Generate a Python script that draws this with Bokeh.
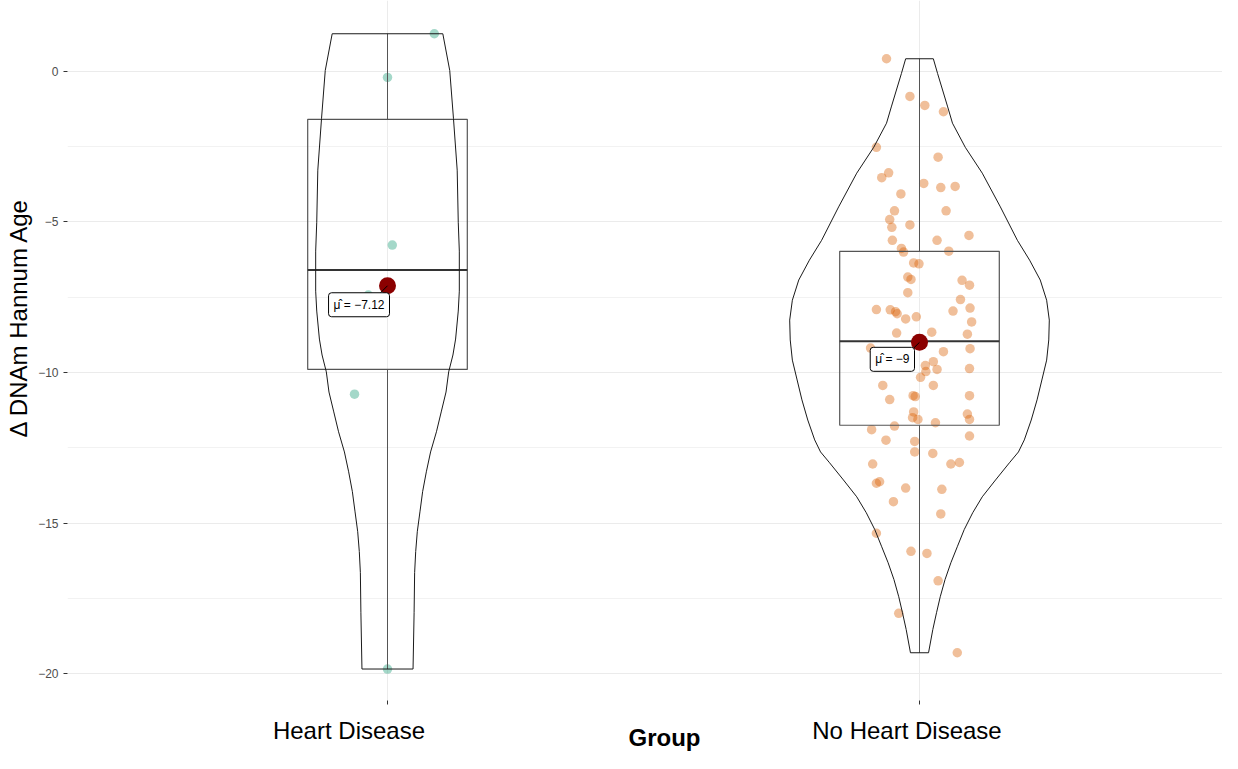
import numpy as np
from bokeh.plotting import figure
from bokeh.models import FixedTicker, Label, Range1d, LinearAxis, Title
from bokeh.embed import file_html
from bokeh.resources import INLINE

# ---------------- data ----------------
categories = ["Heart Disease", "No Heart Disease"]
group_colors = ["#1B9E77", "#D95F02"]

hd_values = [1.25, -0.20, -5.77, -7.43, -10.72, -19.85]
hd_jitter = [0.088, 0.000, 0.009, -0.036, -0.062, 0.000]

nhd_values = [
    0.42, -0.83, -1.13, -1.34, -2.52, -2.85, -3.37, -3.53, -3.72, -3.86,
    -3.82, -4.07, -4.63, -4.63, -4.92, -5.10, -5.18, -5.45, -5.61, -5.61,
    -5.88, -6.00, -5.97, -6.36, -6.39, -6.83, -6.91, -6.94, -7.10, -7.35,
    -7.58, -7.86, -7.91, -7.92, -7.98, -8.05, -7.96, -8.22, -8.15, -8.32,
    -8.69, -8.66, -8.73, -9.31, -9.21, -9.64, -9.77, -9.97, -9.90, -10.16,
    -9.87, -10.43, -10.43, -10.90, -10.77, -10.80, -10.77, -11.31, -11.50, -11.56,
    -11.38, -11.56, -11.67, -11.78, -11.90, -12.11, -12.25, -9.19,
    -12.29, -12.64, -12.69, -13.04, -13.04, -12.99, -13.68, -13.63, -13.84, -13.88,
    -14.29, -14.70, -15.34, -15.94, -16.01, -16.92, -18.00, -19.31,
]
nhd_jitter = [
    -0.062, -0.018, 0.010, 0.045, -0.081, 0.035, -0.058, -0.071, 0.008, 0.040,
    0.067, -0.035, -0.047, 0.050, -0.056, -0.018, -0.052, 0.093, -0.051, 0.033,
    -0.034, -0.030, 0.055, -0.011, -0.001, -0.022, -0.016, 0.080, 0.094, -0.022,
    0.077, 0.095, -0.081, -0.055, -0.045, -0.042, 0.063, -0.026, -0.006, 0.098,
    -0.043, 0.023, 0.090, 0.045, 0.095, 0.026, 0.011, 0.012, 0.033, 0.002,
    0.094, -0.069, 0.026, -0.056, -0.012, -0.008, 0.094, -0.011, -0.013, -0.003,
    0.090, 0.094, 0.030, -0.047, -0.090, 0.094, -0.063, -0.092,
    -0.009, -0.009, 0.025, -0.088, 0.059, 0.075, -0.081, -0.075, -0.026, 0.042,
    -0.049, 0.040, -0.081, -0.016, 0.014, 0.035, -0.039, 0.071,
]

# violin outlines: value -> half width (x units)
hd_violin_y = [1.25, 0.03, -1.56, -3.28, -5.01, -5.97, -7.30, -7.96, -8.89, -9.42,
               -9.98, -10.65, -11.31, -11.97, -12.64, -13.30, -13.96, -14.63,
               -15.29, -15.95, -16.65, -17.98, -19.85]
hd_violin_hw = [0.104, 0.117, 0.124, 0.131, 0.133, 0.135, 0.135, 0.133, 0.128, 0.123,
                0.115, 0.110, 0.101, 0.092, 0.081, 0.073, 0.066, 0.061,
                0.056, 0.053, 0.051, 0.050, 0.048]
nhd_violin_y = [0.42, -0.07, -1.18, -1.72, -2.52, -3.38, -4.50, -5.61, -6.27, -6.93,
                -7.60, -8.26, -8.92, -9.59, -10.25, -10.91, -11.58, -12.24, -12.64,
                -13.00, -13.57, -14.13, -14.66, -15.22, -15.79, -16.32, -16.88,
                -17.45, -17.98, -18.54, -19.31]
nhd_violin_hw = [0.026, 0.034, 0.053, 0.062, 0.086, 0.118, 0.152, 0.184, 0.207, 0.227,
                 0.239, 0.244, 0.243, 0.239, 0.230, 0.221, 0.210, 0.197, 0.186,
                 0.169, 0.143, 0.118, 0.100, 0.084, 0.071, 0.059, 0.048,
                 0.039, 0.032, 0.025, 0.017]

y_ticks = [0, -5, -10, -15, -20]
y_minor_ticks = [-2.5, -7.5, -12.5, -17.5]
x_title = "Group"
y_title = "\u0394 DNAm Hannum Age"

groups_values = [hd_values, nhd_values]
groups_jitter = [hd_jitter, nhd_jitter]
violins = [(hd_violin_y, hd_violin_hw), (nhd_violin_y, nhd_violin_hw)]

# ---------------- layout ----------------
W, H = 1222, 753
BL, BB = 67, 52
frame_w, frame_h = W - BL, H - BB
PX_X, PX_Y = 532.0, 30.15
x0 = 1 - 320 / PX_X
y1 = 71 / PX_Y

p = figure(width=W, height=H,
           x_range=Range1d(x0, x0 + frame_w / PX_X),
           y_range=Range1d(y1 - frame_h / PX_Y, y1),
           output_backend="svg", toolbar_location=None,
           min_border_left=BL, min_border_right=0, min_border_top=0,
           min_border_bottom=BB)
p.outline_line_color = None
p.background_fill_color = "white"
p.border_fill_color = "white"

# grids / axes
p.xaxis.ticker = FixedTicker(ticks=[1, 2])
p.xaxis.major_label_overrides = {1: "", 2: ""}
p.xaxis.major_label_text_font_size = "0px"
p.xaxis.major_label_standoff = 0
p.yaxis.ticker = FixedTicker(ticks=y_ticks, minor_ticks=y_minor_ticks)
p.xgrid.grid_line_color = "#EBEBEB"
p.ygrid.grid_line_color = "#EBEBEB"
p.ygrid.minor_grid_line_color = "#F2F2F2"
for ax in (p.xaxis[0], p.yaxis[0]):
    ax.axis_line_color = None
    ax.major_tick_line_color = "#333333"
    ax.major_tick_out = 4
    ax.major_tick_in = 0
    ax.minor_tick_line_color = None
p.yaxis.major_label_text_font = "Liberation Sans"
p.yaxis.major_label_text_font_size = "12px"
p.yaxis.major_label_text_color = "#4D4D4D"
p.yaxis.major_label_standoff = 5


def text_axis(positions, texts, standoff, style):
    return LinearAxis(ticker=FixedTicker(ticks=positions),
                      major_label_overrides=dict(zip(positions, texts)),
                      axis_line_color=None, major_tick_line_color=None,
                      major_tick_out=0, major_tick_in=0, minor_tick_line_color=None,
                      major_label_standoff=standoff,
                      major_label_text_font="Liberation Sans",
                      major_label_text_font_style=style,
                      major_label_text_font_size="24px",
                      major_label_text_color="black")


# category names (placed as in the picture, slightly left of each tick)
tick_label_dx = [-38.5, -12.5]
label_pos = [round(i + 1 + dx / PX_X, 4) for i, dx in enumerate(tick_label_dx)]
p.add_layout(text_axis(label_pos, categories, 12, "normal"), "below")
# x-axis title, centred a little right of the panel centre as in the picture
title_pos = [round(1.5 + 11 / PX_X, 4)]
p.add_layout(text_axis(title_pos, [x_title], -23, "bold"), "below")
p.add_layout(Title(text=y_title, align="left", offset=263, standoff=3,
                   vertical_align="top",
                   text_font="Liberation Sans", text_font_style="normal",
                   text_font_size="24px", text_color="black"), "left")

BOX_W = 0.3
label_dx = [2, -5]       # px, right edge of mean label vs. group centre
label_dy = [7, 5]        # px, top edge of mean label below the mean

for i, (vals, jit) in enumerate(zip(groups_values, groups_jitter)):
    cx = i + 1
    v = np.asarray(vals, dtype=float)
    # jittered points
    p.scatter(x=cx + np.asarray(jit), y=v, size=9.5, fill_color=group_colors[i],
              fill_alpha=0.4, line_color=None)
    # box + whiskers
    q1, med, q3 = np.percentile(v, [25, 50, 75])
    iqr = q3 - q1
    lo = v[v >= q1 - 1.5 * iqr].min()
    hi = v[v <= q3 + 1.5 * iqr].max()
    p.segment(x0=[cx, cx], y0=[q3, q1], x1=[cx, cx], y1=[hi, lo],
              line_color="#555555", line_width=1)
    p.quad(left=cx - BOX_W / 2, right=cx + BOX_W / 2, bottom=q1, top=q3,
           fill_alpha=0.0, line_color="#555555", line_width=1.2)
    p.segment(x0=cx - BOX_W / 2, y0=med, x1=cx + BOX_W / 2, y1=med,
              line_color="#333333", line_width=2)
    # violin outline
    vy = np.asarray(violins[i][0])
    hw = np.asarray(violins[i][1])
    xs = np.concatenate([cx - hw, (cx + hw)[::-1]])
    ys = np.concatenate([vy, vy[::-1]])
    p.patch(xs, ys, fill_alpha=0.0, line_color="#1a1a1a", line_width=1)
    # mean
    mu = v.mean()
    p.scatter(x=[cx], y=[mu], size=17, fill_color="#8B0000", line_color=None)
    p.segment(x0=cx, y0=mu, x1=cx - 7 / PX_X, y1=mu - 7 / PX_Y,
              line_color="black", line_width=1)
    txt = f"{mu:.2f}".rstrip("0").rstrip(".").replace("-", "\u2212")
    p.add_layout(Label(x=cx, y=mu, x_offset=label_dx[i], y_offset=-label_dy[i],
                       text="\u03bc\u0302 = " + txt, text_align="right",
                       text_baseline="top", text_font="Liberation Sans",
                       text_font_size="12px", text_color="black",
                       background_fill_color="white", border_line_color="black",
                       border_line_width=1, padding=5, border_radius=3))

open("out.html", "w").write(file_html(p, INLINE))
